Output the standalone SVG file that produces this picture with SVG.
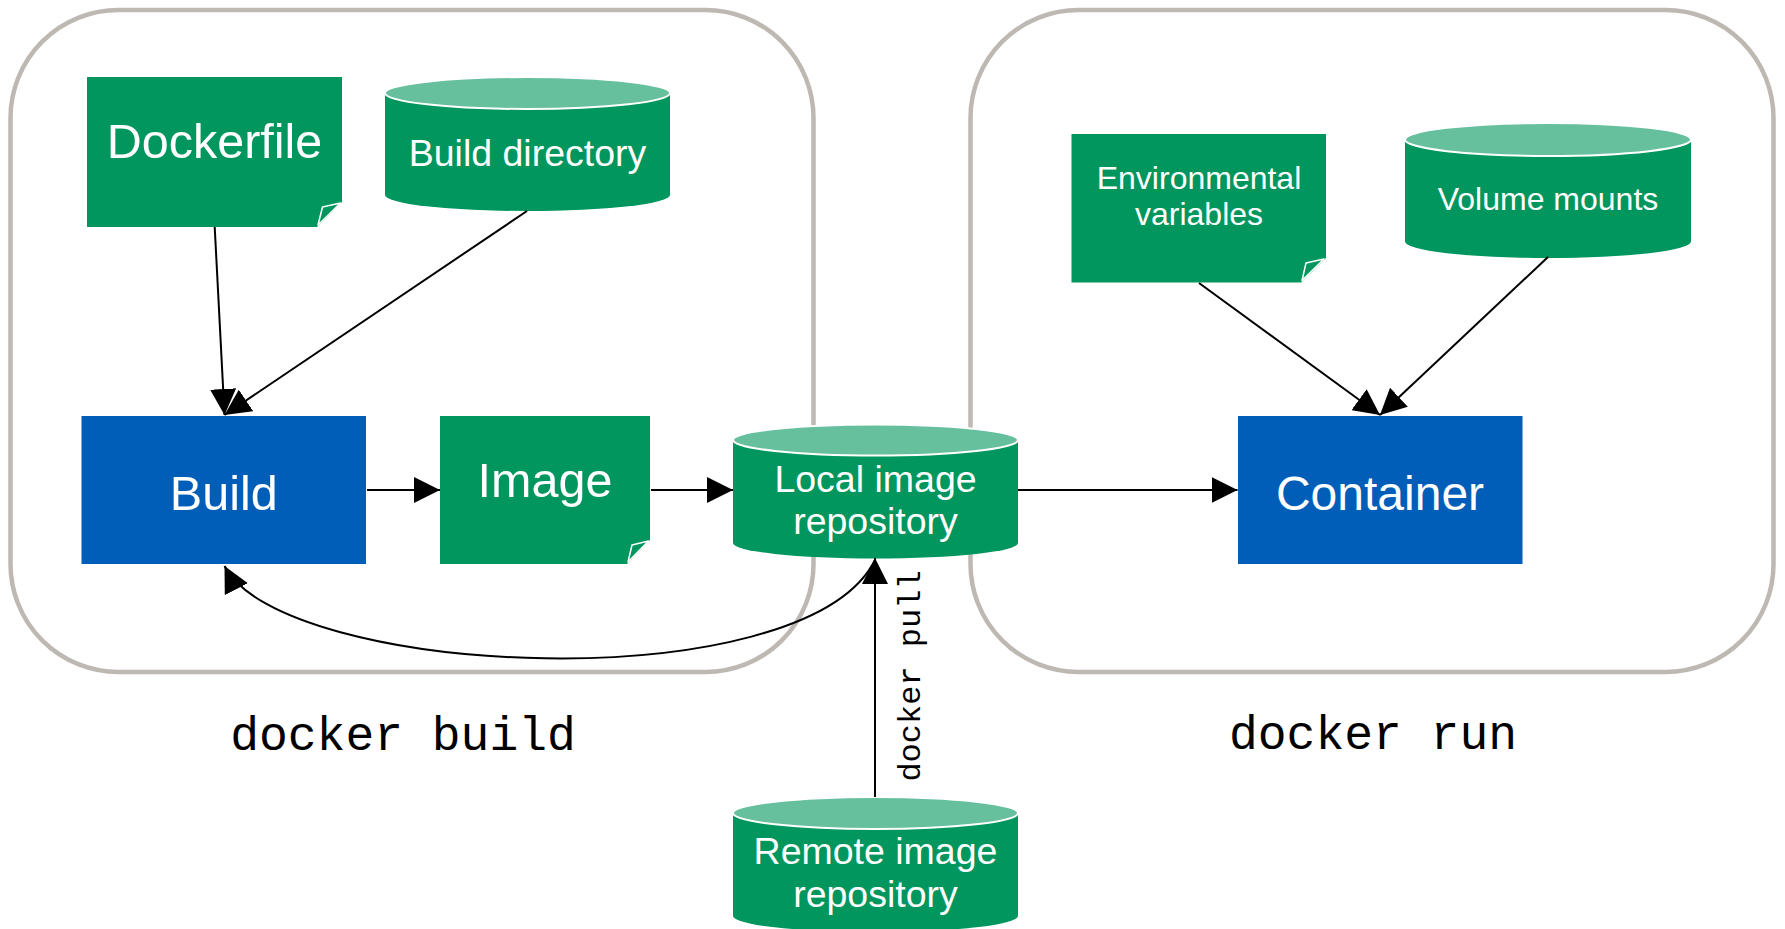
<svg xmlns="http://www.w3.org/2000/svg" width="1785" height="929" viewBox="0 0 1785 929">
<style>
.frame{fill:none;stroke:#bdb9b2;stroke-width:4.5}
.g{fill:#00965e}
.cap{fill:#66c09e;stroke:#fff;stroke-width:2}
.blue{fill:#005eb8}
.fold{fill:#00965e;stroke:#fff;stroke-width:1.5;stroke-linejoin:round}
.t{font-family:"Liberation Sans",Arial,sans-serif;fill:#fff;text-anchor:middle}
.mono{font-family:"Liberation Mono","Courier New",monospace;fill:#000;text-anchor:middle}
.c{fill:none;stroke:#000;stroke-width:2;marker-end:url(#ah)}
</style>
<defs>
<marker id="ah" markerUnits="userSpaceOnUse" markerWidth="26" markerHeight="26" refX="26" refY="13" orient="auto" viewBox="0 0 26 26"><path d="M0,0 L26,13 L0,26 Z" fill="#000"/></marker>
</defs>
<g id="frames">
<rect class="frame" x="10.5" y="10" width="803" height="662" rx="108"/>
<rect class="frame" x="970.5" y="10" width="803" height="662" rx="108"/>
<text class="mono" x="403" y="750" font-size="48">docker build</text>
<text class="mono" x="1373" y="749" font-size="48">docker run</text>
</g>
<g id="dockerfile">
<path class="g" d="M87,77 H342 V202 L317,227 H87 Z"/>
<path class="fold" d="M318,225 L322.5,207 L340.5,203 Z"/>
<text class="t" x="214.5" y="158" font-size="48.5">Dockerfile</text>
</g>
<g id="build-directory">
<path class="g" d="M385,93 V195 A142.5,16 0 0 0 670,195 V93 Z"/>
<ellipse class="cap" cx="527.5" cy="93" rx="142.5" ry="16"/>
<text class="t" x="527.5" y="166" font-size="37.5">Build directory</text>
</g>
<g id="build">
<rect class="blue" x="81.5" y="416" width="284.5" height="148"/>
<text class="t" x="223.8" y="509.5" font-size="48.5">Build</text>
</g>
<g id="image">
<path class="g" d="M440,416 H650 V540 L627,564 H440 Z"/>
<path class="fold" d="M628,562 L632,545 L648.5,541 Z"/>
<text class="t" x="545" y="497" font-size="48.5">Image</text>
</g>
<g id="local-image-repository">
<path class="g" d="M733,440 V543 A142.5,15.5 0 0 0 1018,543 V440 Z"/>
<ellipse class="cap" cx="875.5" cy="440" rx="142.5" ry="15.5"/>
<text class="t" x="875.5" y="492" font-size="37.5">Local image</text>
<text class="t" x="875.5" y="533.5" font-size="37.5">repository</text>
</g>
<g id="container">
<rect class="blue" x="1238" y="416" width="284.5" height="148"/>
<text class="t" x="1380" y="509.5" font-size="48">Container</text>
</g>
<g id="environmental-variables">
<path class="g" d="M1071.5,134 H1326 V258 L1301,282.5 H1071.5 Z"/>
<path class="fold" d="M1302,280.5 L1306,263 L1324,259 Z"/>
<text class="t" x="1199" y="188.5" font-size="32">Environmental</text>
<text class="t" x="1199" y="225" font-size="32">variables</text>
</g>
<g id="volume-mounts">
<path class="g" d="M1405,139.5 V241.5 A143,16.5 0 0 0 1691,241.5 V139.5 Z"/>
<ellipse class="cap" cx="1548" cy="139.5" rx="143" ry="16.5"/>
<text class="t" x="1548" y="210" font-size="32">Volume mounts</text>
</g>
<g id="remote-image-repository">
<path class="g" d="M733,813 V916 A142.5,16 0 0 0 1018,916 V813 Z"/>
<ellipse class="cap" cx="875.5" cy="813" rx="142.5" ry="16"/>
<text class="t" x="875.5" y="863.5" font-size="37.5">Remote image</text>
<text class="t" x="875.5" y="907" font-size="37.5">repository</text>
</g>
<g id="connectors">
<path class="c" d="M214.7,227 L224.5,415"/>
<path class="c" d="M527,211 L224.5,415"/>
<path class="c" d="M367,490 L440,490"/>
<path class="c" d="M651,490 L733,490"/>
<path class="c" d="M1018,490 L1237.5,490"/>
<path class="c" d="M1199,283 L1380,415"/>
<path class="c" d="M1548,257 L1380,415"/>
<path class="c" d="M875,797 L875,558"/>
<path class="c" d="M875,560 C804,702 282,678 224.5,566"/>
<text class="mono" font-size="32" text-anchor="middle" transform="translate(920,676) rotate(-90)">docker pull</text>
</g>
</svg>
